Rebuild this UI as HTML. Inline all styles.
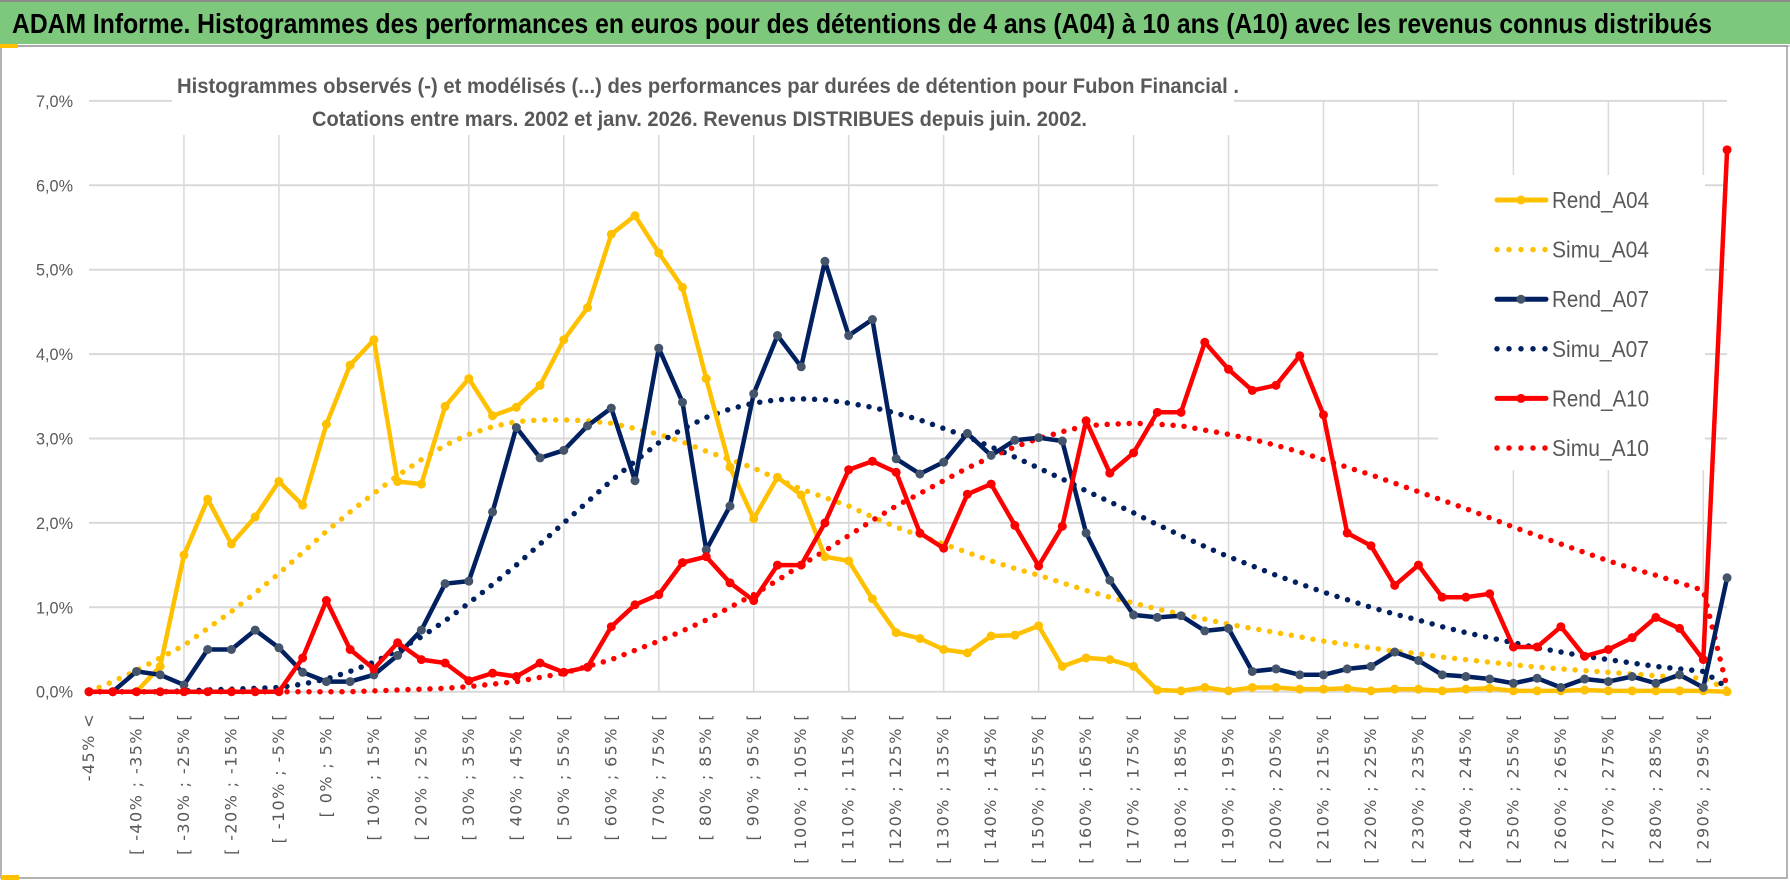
<!DOCTYPE html>
<html><head><meta charset="utf-8"><style>
html,body{margin:0;padding:0;background:#fff;}
svg{display:block;}
</style></head><body>
<svg id="chart" width="1790" height="888" viewBox="0 0 1790 888" xmlns="http://www.w3.org/2000/svg">
  <rect x="0" y="0" width="1790" height="888" fill="#fff"/>
  <rect x="0" y="0" width="1790" height="44" fill="#7EC87E"/>
  <line x1="0" y1="1" x2="1790" y2="1" stroke="#8a8a8a" stroke-width="2"/>
  <line x1="0" y1="46" x2="1790" y2="46" stroke="#d0d0d0" stroke-width="2"/>
  <rect x="1" y="46" width="1786" height="832" fill="none" stroke="#9a9a9a" stroke-width="1.5"/>
  <rect x="0" y="44" width="18" height="4" fill="#FFC000"/>
  <rect x="1" y="875" width="18" height="5" fill="#FFC000"/>
  <text x="12" y="33" font-family="'Liberation Sans Narrow','Liberation Sans',sans-serif" font-weight="bold" font-size="28" fill="#000" textLength="1700" lengthAdjust="spacingAndGlyphs">ADAM Informe. Histogrammes des performances en euros pour des détentions de 4 ans (A04) à 10 ans (A10) avec les revenus connus distribués</text>
  <g id="grid"></g>
  <rect x="172" y="60" width="1062" height="75" fill="#fff"/>
  <text x="177" y="93" font-family="'Liberation Sans Narrow','Liberation Sans',sans-serif" font-weight="bold" font-size="21" fill="#595959" textLength="1062" lengthAdjust="spacingAndGlyphs">Histogrammes observés (-) et modélisés (...) des performances par durées de détention pour Fubon Financial .</text>
  <text x="312" y="126" font-family="'Liberation Sans Narrow','Liberation Sans',sans-serif" font-weight="bold" font-size="21" fill="#595959" textLength="775" lengthAdjust="spacingAndGlyphs">Cotations entre mars. 2002 et janv. 2026.  Revenus DISTRIBUES depuis juin. 2002.</text>
  <g id="series"></g>
  <g id="legend"></g>
</svg>
<script>
const categoriesCount = 70;
const yTicks = [0,1,2,3,4,5,6,7];
const yTickLabels = ["0,0%","1,0%","2,0%","3,0%","4,0%","5,0%","6,0%","7,0%"];
const rendA04 = [0,0,0,0.3,1.62,2.28,1.75,2.07,2.49,2.21,3.17,3.87,4.17,2.49,2.46,3.38,3.71,3.27,3.37,3.63,4.17,4.55,5.42,5.64,5.2,4.79,3.71,2.66,2.05,2.54,2.33,1.6,1.55,1.1,0.7,0.63,0.5,0.46,0.66,0.67,0.78,0.3,0.4,0.38,0.3,0.02,0.01,0.05,0.01,0.05,0.05,0.03,0.03,0.04,0.01,0.03,0.03,0.01,0.03,0.04,0.01,0.01,0.01,0.02,0.01,0.01,0.01,0.01,0.01,0];
const simuA04 = [0,0.12,0.25,0.4,0.55,0.75,0.95,1.17,1.4,1.65,1.9,2.13,2.35,2.56,2.75,2.92,3.05,3.14,3.2,3.22,3.22,3.21,3.18,3.12,3.05,2.96,2.85,2.75,2.65,2.52,2.4,2.3,2.2,2.07,1.95,1.85,1.75,1.65,1.55,1.46,1.38,1.29,1.2,1.12,1.05,0.98,0.92,0.86,0.8,0.75,0.7,0.65,0.6,0.56,0.52,0.48,0.45,0.41,0.38,0.35,0.32,0.29,0.27,0.25,0.23,0.21,0.19,0.17,0.16,0.03];
const rendA07 = [0,0,0.24,0.2,0.08,0.5,0.5,0.73,0.52,0.23,0.12,0.12,0.2,0.43,0.73,1.28,1.31,2.13,3.13,2.77,2.86,3.15,3.36,2.5,4.07,3.43,1.68,2.2,3.53,4.22,3.85,5.1,4.22,4.41,2.76,2.58,2.72,3.06,2.8,2.98,3.01,2.97,1.88,1.32,0.91,0.88,0.9,0.72,0.75,0.24,0.27,0.2,0.2,0.27,0.3,0.47,0.37,0.2,0.18,0.15,0.1,0.16,0.05,0.15,0.12,0.18,0.1,0.2,0.05,1.35];
const simuA07 = [0,0,0,0,0.01,0.02,0.03,0.04,0.05,0.09,0.15,0.24,0.35,0.49,0.65,0.84,1.05,1.27,1.5,1.75,2.0,2.25,2.5,2.73,2.95,3.11,3.25,3.35,3.42,3.46,3.47,3.46,3.42,3.37,3.3,3.22,3.12,3.02,2.9,2.78,2.65,2.52,2.38,2.25,2.12,1.98,1.85,1.72,1.6,1.49,1.38,1.28,1.18,1.09,1.0,0.92,0.85,0.77,0.7,0.64,0.58,0.52,0.47,0.42,0.38,0.34,0.3,0.27,0.24,0.05];
const rendA10 = [0,0,0,0,0,0,0,0,0,0.4,1.08,0.5,0.27,0.58,0.38,0.34,0.13,0.22,0.18,0.34,0.23,0.29,0.77,1.03,1.15,1.53,1.6,1.29,1.08,1.5,1.5,2.0,2.63,2.73,2.6,1.88,1.7,2.34,2.46,1.97,1.49,1.96,3.21,2.59,2.83,3.31,3.31,4.14,3.82,3.57,3.63,3.98,3.28,1.88,1.73,1.26,1.5,1.12,1.12,1.16,0.53,0.53,0.77,0.42,0.5,0.64,0.88,0.75,0.38,6.42];
const simuA10 = [0,0,0,0,0,0,0,0,0,0,0,0,0.01,0.02,0.03,0.04,0.06,0.09,0.12,0.17,0.22,0.3,0.38,0.49,0.6,0.72,0.85,1.0,1.15,1.32,1.5,1.67,1.85,2.03,2.2,2.35,2.5,2.65,2.78,2.9,3.0,3.08,3.15,3.17,3.18,3.17,3.15,3.1,3.05,2.99,2.92,2.84,2.75,2.66,2.57,2.47,2.37,2.27,2.17,2.06,1.95,1.85,1.75,1.65,1.55,1.46,1.38,1.29,1.2,0.05];

function catLabel(i){
  if(i===0) return "-45% <";
  const lo = -45 + 5*(i-1);
  return "[ " + lo + "% ; " + (lo+5) + "% [";
}
const NS="http://www.w3.org/2000/svg";
const X0=89, STEP=23.74, Y0=691.7, PPU=84.4;
const xs = i => X0 + i*STEP;
const ys = v => Y0 - v*PPU;
function mk(tag, attrs, parent){
  const e=document.createElementNS(NS,tag);
  for(const k in attrs) e.setAttribute(k, attrs[k]);
  parent.appendChild(e); return e;
}
const grid=document.getElementById('grid');
const ser=document.getElementById('series');
const leg=document.getElementById('legend');
const XEND=xs(categoriesCount-1);
yTicks.forEach((t,k)=>{
  const y=ys(t);
  const gl=mk('line',{x1:X0,y1:y,x2:XEND,y2:y,stroke:'#D9D9D9','stroke-width':2},grid);
  
  
  const tl=mk('text',{x:73,y:y+6,'text-anchor':'end','font-family':"'Liberation Sans Narrow','Liberation Sans',sans-serif",'font-size':17,fill:'#595959',textLength:37,lengthAdjust:'spacingAndGlyphs'},grid);
  tl.textContent=yTickLabels[k];
  
  
});
for(let i=4;i<categoriesCount;i+=4){
  const x=xs(i);
  const vl=mk('line',{x1:x,y1:(x>1233?100:135),x2:x,y2:Y0,stroke:'#D9D9D9','stroke-width':1.5},grid);
  
  
}
for(let i=0;i<categoriesCount;i+=2){
  const x=xs(i)+5;
  const t=mk('text',{x:x,y:713,transform:`rotate(-90 ${x} 713)`,'text-anchor':'end','font-family':"'DejaVu Sans',sans-serif",'font-size':16,'letter-spacing':1.4,fill:'#595959'},grid);
  t.textContent=catLabel(i);
  
  
}
mk('rect',{x:1438,y:175,width:267,height:295,fill:'#fff'},grid);

function pathD(arr){return arr.map((v,i)=>(i?'L':'M')+xs(i).toFixed(1)+' '+ys(v).toFixed(1)).join(' ');}
function dotted(arr,color,name){
  const p=mk('path',{d:pathD(arr),fill:'none',stroke:color,'stroke-width':5.5,'stroke-linecap':'round','stroke-dasharray':'0 11'},ser);
  
  
}
function solid(arr,color,mcolor,name){
  const g=mk('g',{},ser);
  
  
  mk('path',{d:pathD(arr),fill:'none',stroke:color,'stroke-width':4.5,'stroke-linejoin':'round'},g);
  arr.forEach((v,i)=>{
    const c=mk('circle',{cx:xs(i),cy:ys(v),r:4.5,fill:mcolor},g);
    
    
  });
}
dotted(simuA04,'#FFC000','simu-a04-line');
dotted(simuA07,'#002060','simu-a07-line');
dotted(simuA10,'#FF0000','simu-a10-line');
solid(rendA04,'#FFC000','#FFC000','rend-a04-line');
solid(rendA07,'#002060','#44546A','rend-a07-line');
solid(rendA10,'#FF0000','#FF0000','rend-a10-line');

const legItems=[['Rend_A04','#FFC000','#FFC000',false],['Simu_A04','#FFC000',null,true],['Rend_A07','#002060','#44546A',false],['Simu_A07','#002060',null,true],['Rend_A10','#FF0000','#FF0000',false],['Simu_A10','#FF0000',null,true]];
legItems.forEach((it,k)=>{
  const y=200+k*49.6;
  const g=mk('g',{},leg);
  
  
  if(it[3]){
    mk('line',{x1:1497,y1:y,x2:1546,y2:y,stroke:it[1],'stroke-width':5.5,'stroke-linecap':'round','stroke-dasharray':'0 12'},g);
  } else {
    mk('line',{x1:1497,y1:y,x2:1546,y2:y,stroke:it[1],'stroke-width':5,'stroke-linecap':'round'},g);
    mk('circle',{cx:1521,cy:y,r:4.5,fill:it[2]},g);
  }
  const t=mk('text',{x:1552,y:y+8,'font-family':"'Liberation Sans Narrow','Liberation Sans',sans-serif",'font-size':23,fill:'#595959',textLength:97,lengthAdjust:'spacingAndGlyphs'},g);
  t.textContent=it[0];
});
</script>
</body></html>
